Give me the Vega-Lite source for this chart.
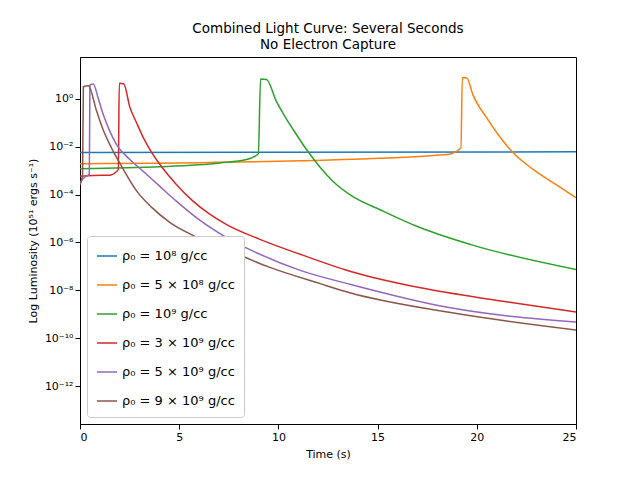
{
  "$schema": "https://vega.github.io/schema/vega-lite/v6.json",
  "width": 496,
  "height": 367,
  "autosize": {"type": "none"},
  "padding": {"left": 80, "top": 57, "right": 64, "bottom": 54},
  "config": {
    "font": "DejaVu Sans",
    "view": {"stroke": "black", "strokeWidth": 1},
    "axis": {"grid": false, "domainColor": "black", "tickColor": "black", "labelColor": "black", "titleColor": "black", "labelFontSize": 11, "titleFontSize": 11, "titleFontWeight": "normal", "labelFont": "DejaVu Sans", "titleFont": "DejaVu Sans"}
  },
  "title": {"text": ["Combined Light Curve: Several Seconds", "No Electron Capture"], "fontSize": 13.5, "fontWeight": "normal", "font": "DejaVu Sans", "color": "black", "offset": 6},
  "data": {"values": [
    {"s": "ρ₀ = 10⁸ g/cc", "t": 0, "L": 5.8e-3},
    {"s": "ρ₀ = 10⁸ g/cc", "t": 25, "L": 6.1e-3},

    {"s": "ρ₀ = 5 × 10⁸ g/cc", "t": 0, "L": 1.95e-3},
    {"s": "ρ₀ = 5 × 10⁸ g/cc", "t": 11.1, "L": 2.6e-3},
    {"s": "ρ₀ = 5 × 10⁸ g/cc", "t": 18.5, "L": 4.7e-3},
    {"s": "ρ₀ = 5 × 10⁸ g/cc", "t": 19.2, "L": 8.9e-3},
    {"s": "ρ₀ = 5 × 10⁸ g/cc", "t": 19.27, "L": 7.8},
    {"s": "ρ₀ = 5 × 10⁸ g/cc", "t": 19.5, "L": 7.5},
    {"s": "ρ₀ = 5 × 10⁸ g/cc", "t": 19.8, "L": 1.5},
    {"s": "ρ₀ = 5 × 10⁸ g/cc", "t": 20.5, "L": 0.16},
    {"s": "ρ₀ = 5 × 10⁸ g/cc", "t": 21.1, "L": 3.0e-2},
    {"s": "ρ₀ = 5 × 10⁸ g/cc", "t": 21.76, "L": 6.5e-3},
    {"s": "ρ₀ = 5 × 10⁸ g/cc", "t": 22.85, "L": 1.1e-3},
    {"s": "ρ₀ = 5 × 10⁸ g/cc", "t": 24, "L": 2.6e-4},
    {"s": "ρ₀ = 5 × 10⁸ g/cc", "t": 25, "L": 7.4e-5},

    {"s": "ρ₀ = 10⁹ g/cc", "t": 0, "L": 1.2e-3},
    {"s": "ρ₀ = 10⁹ g/cc", "t": 4.03, "L": 1.45e-3},
    {"s": "ρ₀ = 10⁹ g/cc", "t": 7.06, "L": 2.1e-3},
    {"s": "ρ₀ = 10⁹ g/cc", "t": 8.4, "L": 2.9e-3},
    {"s": "ρ₀ = 10⁹ g/cc", "t": 8.99, "L": 5.1e-3},
    {"s": "ρ₀ = 10⁹ g/cc", "t": 9.1, "L": 6.8},
    {"s": "ρ₀ = 10⁹ g/cc", "t": 9.4, "L": 6.5},
    {"s": "ρ₀ = 10⁹ g/cc", "t": 9.9, "L": 0.78},
    {"s": "ρ₀ = 10⁹ g/cc", "t": 10.3, "L": 0.2},
    {"s": "ρ₀ = 10⁹ g/cc", "t": 10.75, "L": 5.1e-2},
    {"s": "ρ₀ = 10⁹ g/cc", "t": 11.4, "L": 8.0e-3},
    {"s": "ρ₀ = 10⁹ g/cc", "t": 12.1, "L": 1.4e-3},
    {"s": "ρ₀ = 10⁹ g/cc", "t": 12.8, "L": 3.3e-4},
    {"s": "ρ₀ = 10⁹ g/cc", "t": 13.6, "L": 1.0e-4},
    {"s": "ρ₀ = 10⁹ g/cc", "t": 15.3, "L": 2.0e-5},
    {"s": "ρ₀ = 10⁹ g/cc", "t": 17.1, "L": 4.3e-6},
    {"s": "ρ₀ = 10⁹ g/cc", "t": 19.66, "L": 8.3e-7},
    {"s": "ρ₀ = 10⁹ g/cc", "t": 25, "L": 7.4e-8},

    {"s": "ρ₀ = 3 × 10⁹ g/cc", "t": 0, "L": 5.8e-4},
    {"s": "ρ₀ = 3 × 10⁹ g/cc", "t": 0.67, "L": 6.3e-4},
    {"s": "ρ₀ = 3 × 10⁹ g/cc", "t": 1.5, "L": 6.5e-4},
    {"s": "ρ₀ = 3 × 10⁹ g/cc", "t": 1.93, "L": 1.1e-3},
    {"s": "ρ₀ = 3 × 10⁹ g/cc", "t": 1.98, "L": 4.5},
    {"s": "ρ₀ = 3 × 10⁹ g/cc", "t": 2.2, "L": 4.3},
    {"s": "ρ₀ = 3 × 10⁹ g/cc", "t": 2.52, "L": 0.43},
    {"s": "ρ₀ = 3 × 10⁹ g/cc", "t": 2.85, "L": 0.1},
    {"s": "ρ₀ = 3 × 10⁹ g/cc", "t": 3.19, "L": 2.4e-2},
    {"s": "ρ₀ = 3 × 10⁹ g/cc", "t": 3.6, "L": 6.0e-3},
    {"s": "ρ₀ = 3 × 10⁹ g/cc", "t": 4.03, "L": 1.8e-3},
    {"s": "ρ₀ = 3 × 10⁹ g/cc", "t": 4.8, "L": 3.0e-4},
    {"s": "ρ₀ = 3 × 10⁹ g/cc", "t": 5.71, "L": 5.2e-5},
    {"s": "ρ₀ = 3 × 10⁹ g/cc", "t": 6.5, "L": 1.6e-5},
    {"s": "ρ₀ = 3 × 10⁹ g/cc", "t": 7.39, "L": 5.6e-6},
    {"s": "ρ₀ = 3 × 10⁹ g/cc", "t": 9.07, "L": 1.35e-6},
    {"s": "ρ₀ = 3 × 10⁹ g/cc", "t": 11.1, "L": 3.2e-7},
    {"s": "ρ₀ = 3 × 10⁹ g/cc", "t": 13.6, "L": 6.3e-8},
    {"s": "ρ₀ = 3 × 10⁹ g/cc", "t": 17.1, "L": 1.3e-8},
    {"s": "ρ₀ = 3 × 10⁹ g/cc", "t": 21.2, "L": 3.6e-9},
    {"s": "ρ₀ = 3 × 10⁹ g/cc", "t": 25, "L": 1.25e-9},

    {"s": "ρ₀ = 5 × 10⁹ g/cc", "t": 0, "L": 3.2e-4},
    {"s": "ρ₀ = 5 × 10⁹ g/cc", "t": 0.25, "L": 5.4e-4},
    {"s": "ρ₀ = 5 × 10⁹ g/cc", "t": 0.47, "L": 7.1e-4},
    {"s": "ρ₀ = 5 × 10⁹ g/cc", "t": 0.5, "L": 3.8},
    {"s": "ρ₀ = 5 × 10⁹ g/cc", "t": 0.67, "L": 4.2},
    {"s": "ρ₀ = 5 × 10⁹ g/cc", "t": 0.9, "L": 1.2},
    {"s": "ρ₀ = 5 × 10⁹ g/cc", "t": 1.18, "L": 0.21},
    {"s": "ρ₀ = 5 × 10⁹ g/cc", "t": 1.5, "L": 4.5e-2},
    {"s": "ρ₀ = 5 × 10⁹ g/cc", "t": 1.85, "L": 1.2e-2},
    {"s": "ρ₀ = 5 × 10⁹ g/cc", "t": 2.5, "L": 3.0e-3},
    {"s": "ρ₀ = 5 × 10⁹ g/cc", "t": 3.19, "L": 9.3e-4},
    {"s": "ρ₀ = 5 × 10⁹ g/cc", "t": 4.0, "L": 2.3e-4},
    {"s": "ρ₀ = 5 × 10⁹ g/cc", "t": 4.87, "L": 5.2e-5},
    {"s": "ρ₀ = 5 × 10⁹ g/cc", "t": 6.0, "L": 9.0e-6},
    {"s": "ρ₀ = 5 × 10⁹ g/cc", "t": 7.39, "L": 1.6e-6},
    {"s": "ρ₀ = 5 × 10⁹ g/cc", "t": 9.07, "L": 3.2e-7},
    {"s": "ρ₀ = 5 × 10⁹ g/cc", "t": 11.1, "L": 6.8e-8},
    {"s": "ρ₀ = 5 × 10⁹ g/cc", "t": 13.6, "L": 1.8e-8},
    {"s": "ρ₀ = 5 × 10⁹ g/cc", "t": 18.6, "L": 1.9e-9},
    {"s": "ρ₀ = 5 × 10⁹ g/cc", "t": 25, "L": 4.7e-10},

    {"s": "ρ₀ = 9 × 10⁹ g/cc", "t": 0, "L": 2.6e-4},
    {"s": "ρ₀ = 9 × 10⁹ g/cc", "t": 0.13, "L": 6.8e-4},
    {"s": "ρ₀ = 9 × 10⁹ g/cc", "t": 0.17, "L": 3.2},
    {"s": "ρ₀ = 9 × 10⁹ g/cc", "t": 0.42, "L": 3.5},
    {"s": "ρ₀ = 9 × 10⁹ g/cc", "t": 0.84, "L": 0.3},
    {"s": "ρ₀ = 9 × 10⁹ g/cc", "t": 1.15, "L": 5.5e-2},
    {"s": "ρ₀ = 9 × 10⁹ g/cc", "t": 1.51, "L": 1.2e-2},
    {"s": "ρ₀ = 9 × 10⁹ g/cc", "t": 2.1, "L": 1.5e-3},
    {"s": "ρ₀ = 9 × 10⁹ g/cc", "t": 2.86, "L": 1.4e-4},
    {"s": "ρ₀ = 9 × 10⁹ g/cc", "t": 3.6, "L": 3.0e-5},
    {"s": "ρ₀ = 9 × 10⁹ g/cc", "t": 4.54, "L": 6.8e-6},
    {"s": "ρ₀ = 9 × 10⁹ g/cc", "t": 5.8, "L": 1.8e-6},
    {"s": "ρ₀ = 9 × 10⁹ g/cc", "t": 7.39, "L": 5.1e-7},
    {"s": "ρ₀ = 9 × 10⁹ g/cc", "t": 9.5, "L": 9.5e-8},
    {"s": "ρ₀ = 9 × 10⁹ g/cc", "t": 12.1, "L": 1.9e-8},
    {"s": "ρ₀ = 9 × 10⁹ g/cc", "t": 13.6, "L": 7.9e-9},
    {"s": "ρ₀ = 9 × 10⁹ g/cc", "t": 18.6, "L": 1.2e-9},
    {"s": "ρ₀ = 9 × 10⁹ g/cc", "t": 25, "L": 2.2e-10}
  ]},
  "mark": {"type": "line", "strokeWidth": 1.5, "clip": true, "interpolate": "monotone"},
  "encoding": {
    "x": {"field": "t", "type": "quantitative", "title": "Time (s)",
      "scale": {"domain": [0, 25], "nice": false},
      "axis": {"values": [0, 5, 10, 15, 20, 25], "titlePadding": 6}},
    "y": {"field": "L", "type": "quantitative", "title": "Log Luminosity (10⁵¹ ergs s⁻¹)",
      "scale": {"type": "log", "domain": [2.6e-14, 56], "nice": false},
      "axis": {"values": [1e-12, 1e-10, 1e-8, 1e-6, 1e-4, 1e-2, 1],
        "labelExpr": "['10⁻¹²','10⁻¹⁰','10⁻⁸','10⁻⁶','10⁻⁴','10⁻²','10⁰'][(round(log(datum.value)/LN10)+12)/2]",
        "titlePadding": 6}},
    "color": {"field": "s", "type": "nominal", "title": null,
      "scale": {"domain": ["ρ₀ = 10⁸ g/cc", "ρ₀ = 5 × 10⁸ g/cc", "ρ₀ = 10⁹ g/cc", "ρ₀ = 3 × 10⁹ g/cc", "ρ₀ = 5 × 10⁹ g/cc", "ρ₀ = 9 × 10⁹ g/cc"],
        "range": ["#1f77b4", "#ff7f0e", "#2ca02c", "#d62728", "#9467bd", "#8c564b"]},
      "legend": {"orient": "bottom-left", "offset": 7, "symbolType": "stroke", "symbolStrokeWidth": 1.5, "symbolSize": 400,
        "labelFontSize": 13, "labelColor": "black", "rowPadding": 11, "padding": 9,
        "fillColor": "white", "strokeColor": "#cccccc", "cornerRadius": 3, "labelFont": "DejaVu Sans"}}
  }
}
